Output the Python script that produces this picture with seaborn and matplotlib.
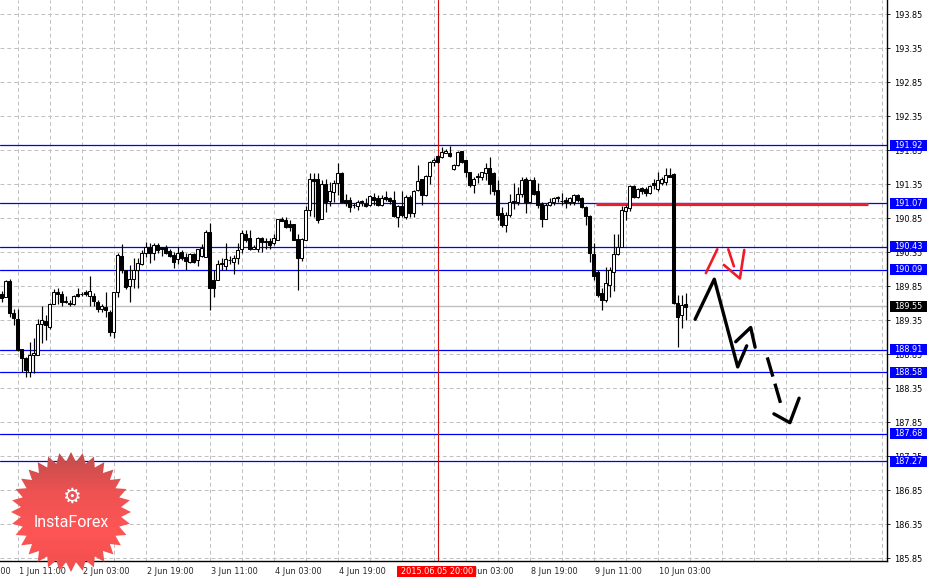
"""Hourly candlestick chart (MT4 style) with support / resistance levels
and a hand-drawn projected path, saved as out.png (930x581).
"""

import numpy as np
import pandas as pd
import matplotlib
matplotlib.use("Agg")
import matplotlib.pyplot as plt
import matplotlib.transforms as mtransforms
from matplotlib.patches import Polygon, Rectangle
import seaborn as sns


# 1. Hourly candles, bar 0 = 1 Jun 07:00
opens = [
    189.73, 189.69, 189.92, 189.45, 189.37, 188.92, 188.79, 188.59, 188.84, 188.83,
    189.29, 189.34, 189.25, 189.59, 189.76, 189.73, 189.62, 189.60, 189.58, 189.73,
    189.73, 189.76, 189.71, 189.70, 189.62, 189.51, 189.54, 189.47, 189.17, 189.76,
    190.29, 190.09, 189.85, 189.95, 190.09, 190.18, 190.34, 190.43, 190.34, 190.45,
    190.42, 190.42, 190.37, 190.31, 190.24, 190.35, 190.27, 190.21, 190.32, 190.23,
    190.29, 190.28, 190.65, 189.94, 189.94, 190.17, 190.15, 190.23, 190.21, 190.26,
    190.39, 190.62, 190.55, 190.40, 190.40, 190.56, 190.51, 190.51, 190.48, 190.53,
    190.83, 190.82, 190.76, 190.76, 190.54, 190.26, 190.53, 190.97, 191.43, 191.42,
    190.84, 191.35, 191.10, 191.23, 191.37, 191.51, 191.12, 191.12, 191.04, 191.02,
    191.10, 191.06, 191.04, 191.16, 191.14, 191.04, 191.16, 191.14, 191.12, 190.86,
    191.03, 190.86, 191.16, 190.93, 191.26, 191.42, 191.19, 191.47, 191.68, 191.76,
    191.74, 191.81, 191.81, 191.57, 191.63, 191.83, 191.71, 191.53, 191.34, 191.46,
    191.45, 191.51, 191.58, 191.51, 191.26, 190.92, 190.75, 190.89, 191.10, 191.08,
    191.21, 191.42, 191.09, 191.41, 191.24, 191.06, 190.84, 191.04, 191.09, 191.16,
    191.10, 191.11, 191.09, 191.09, 191.19, 191.14, 191.01, 190.88, 190.32, 190.06,
    189.75, 189.64, 189.87, 190.06, 190.32, 190.43, 190.96, 191.00, 191.32, 191.16,
    191.29, 191.28, 191.22, 191.36, 191.27, 191.37, 191.38, 191.48, 191.50, 189.60,
    189.42, 189.58,
]
highs = [
    189.78, 189.94, 189.96, 189.51, 189.51, 188.92, 188.81, 189.02, 189.08, 189.36,
    189.55, 189.42, 189.60, 189.81, 189.82, 189.78, 189.71, 189.64, 189.72, 189.82,
    189.76, 189.79, 189.99, 189.74, 189.64, 189.59, 189.76, 189.50, 189.76, 190.33,
    190.47, 190.09, 190.16, 190.26, 190.26, 190.38, 190.50, 190.48, 190.48, 190.48,
    190.43, 190.45, 190.39, 190.35, 190.43, 190.38, 190.33, 190.34, 190.34, 190.40,
    190.47, 190.67, 190.77, 190.08, 190.23, 190.26, 190.48, 190.29, 190.31, 190.48,
    190.68, 190.67, 190.67, 190.45, 190.57, 190.57, 190.55, 190.56, 190.62, 190.84,
    190.86, 190.86, 190.82, 190.76, 190.62, 190.55, 191.02, 191.51, 191.51, 191.51,
    191.41, 191.42, 191.38, 191.41, 191.66, 191.53, 191.21, 191.16, 191.07, 191.11,
    191.11, 191.14, 191.19, 191.22, 191.19, 191.19, 191.24, 191.16, 191.24, 191.04,
    191.24, 191.19, 191.19, 191.26, 191.63, 191.43, 191.48, 191.69, 191.73, 191.78,
    191.90, 191.86, 191.91, 191.65, 191.84, 191.84, 191.71, 191.53, 191.46, 191.51,
    191.53, 191.66, 191.74, 191.52, 191.41, 191.01, 190.94, 191.21, 191.37, 191.31,
    191.45, 191.46, 191.43, 191.46, 191.36, 191.09, 191.07, 191.14, 191.16, 191.17,
    191.22, 191.16, 191.16, 191.20, 191.21, 191.16, 191.03, 190.89, 190.48, 190.08,
    189.82, 190.13, 190.13, 190.62, 190.62, 191.03, 191.04, 191.34, 191.34, 191.29,
    191.31, 191.30, 191.34, 191.42, 191.52, 191.45, 191.58, 191.58, 191.51, 189.72,
    189.72, 189.75,
]
lows = [
    189.62, 189.69, 189.39, 189.28, 188.90, 188.59, 188.51, 188.51, 188.57, 188.83,
    189.01, 189.05, 189.22, 189.58, 189.59, 189.56, 189.60, 189.55, 189.57, 189.69,
    189.71, 189.71, 189.56, 189.56, 189.47, 189.47, 189.40, 189.11, 189.09, 189.69,
    190.04, 189.80, 189.62, 189.82, 189.82, 190.16, 190.28, 190.19, 190.23, 190.34,
    190.29, 190.32, 190.27, 190.12, 190.18, 190.23, 190.09, 190.19, 190.19, 190.14,
    190.28, 190.27, 189.50, 189.69, 189.94, 190.08, 190.09, 190.18, 190.03, 190.18,
    190.33, 190.50, 190.38, 190.39, 190.35, 190.35, 190.40, 190.40, 190.45, 190.53,
    190.80, 190.71, 190.66, 190.53, 189.79, 190.22, 190.52, 190.88, 190.87, 190.78,
    190.83, 190.94, 191.02, 191.09, 191.19, 191.08, 191.02, 190.94, 190.99, 190.97,
    191.03, 191.01, 191.03, 191.04, 191.03, 191.03, 191.10, 191.06, 190.86, 190.72,
    190.86, 190.84, 190.87, 190.87, 191.25, 191.04, 191.17, 191.35, 191.61, 191.66,
    191.73, 191.80, 191.75, 191.56, 191.61, 191.66, 191.46, 191.31, 191.22, 191.37,
    191.41, 191.41, 191.20, 191.19, 190.82, 190.72, 190.65, 190.86, 190.98, 191.04,
    191.16, 190.93, 191.08, 191.19, 190.99, 190.72, 190.83, 191.03, 191.04, 191.08,
    191.04, 190.99, 191.04, 191.04, 191.09, 190.99, 190.75, 190.21, 189.94, 189.69,
    189.50, 189.62, 189.69, 189.77, 190.31, 190.42, 190.82, 190.96, 191.14, 191.14,
    191.21, 191.18, 191.20, 191.27, 191.25, 191.34, 191.33, 191.45, 189.58, 188.95,
    189.23, 189.35,
]
closes = [
    189.67, 189.93, 189.46, 189.38, 188.91, 188.79, 188.61, 188.84, 188.87, 189.29,
    189.35, 189.27, 189.59, 189.76, 189.73, 189.62, 189.62, 189.59, 189.70, 189.71,
    189.73, 189.73, 189.78, 189.63, 189.51, 189.55, 189.49, 189.18, 189.76, 190.31,
    190.09, 189.84, 189.96, 190.09, 190.19, 190.34, 190.43, 190.34, 190.45, 190.38,
    190.39, 190.34, 190.29, 190.21, 190.34, 190.26, 190.22, 190.32, 190.21, 190.39,
    190.41, 190.65, 189.82, 189.82, 190.18, 190.19, 190.24, 190.23, 190.26, 190.38,
    190.63, 190.52, 190.39, 190.43, 190.56, 190.49, 190.49, 190.45, 190.55, 190.83,
    190.81, 190.72, 190.72, 190.53, 190.26, 190.54, 190.97, 191.42, 191.40, 190.82,
    191.35, 191.08, 191.25, 191.37, 191.51, 191.09, 191.07, 191.01, 191.04, 191.09,
    191.08, 191.03, 191.18, 191.12, 191.04, 191.15, 191.13, 191.10, 190.88, 191.03,
    190.89, 191.16, 190.92, 191.25, 191.40, 191.19, 191.47, 191.68, 191.71, 191.68,
    191.82, 191.84, 191.76, 191.63, 191.82, 191.68, 191.53, 191.34, 191.43, 191.47,
    191.52, 191.59, 191.35, 191.24, 190.89, 190.75, 190.89, 191.09, 191.08, 191.21,
    191.41, 191.08, 191.41, 191.20, 191.04, 190.84, 191.04, 191.09, 191.15, 191.14,
    191.10, 191.09, 191.14, 191.19, 191.11, 191.01, 190.88, 190.33, 189.99, 189.72,
    189.64, 189.89, 190.08, 190.32, 190.43, 190.97, 191.01, 191.32, 191.16, 191.27,
    191.25, 191.22, 191.32, 191.33, 191.41, 191.42, 191.48, 191.46, 189.60, 189.39,
    189.57, 189.54,
]

# Horizontal levels (blue lines, labelled on the price axis)
level_prices = [191.92, 191.07, 190.43, 190.09, 188.91, 188.58, 187.68, 187.27]
last_price = 189.55

# Red resistance segment
red_level = 191.06
red_level_start = 148.6
red_level_end = 216.6

# Projected path, black strokes (bar index, price)
path_bars = [173.4, 178.2, 184.05, 186.3, 183.55, 187.3, 188.4, 193.1, 197.1, 199.4]
path_prices = [189.36, 189.95, 188.66, 188.97, 189.03, 189.24, 188.95, 187.97, 187.84, 188.20]
path_strokes = [0, 0, 0, 0, 1, 1, 1, 2, 2, 2]
dash_bars = [191.45, 195.05]
dash_prices = [188.80, 188.07]

# Red arrow strokes above the path
red_bars = [176.1, 178.95, 181.7, 183.1, 180.6, 184.6, 185.7]
red_prices = [190.04, 190.39, 190.39, 190.14, 190.16, 189.96, 190.38]
red_strokes = [0, 0, 1, 1, 2, 2, 2]

# Axis texts
price_ticks = [193.85, 193.35, 192.85, 192.35, 191.85, 191.35, 190.85, 190.35,
               189.85, 189.35, 188.85, 188.35, 187.85, 187.35, 186.85, 186.35, 185.85]
time_labels = ["29 May 19:00", "1 Jun 11:00", "2 Jun 03:00", "2 Jun 19:00",
               "3 Jun 11:00", "4 Jun 03:00", "4 Jun 19:00",
               "8 Jun 03:00", "8 Jun 19:00", "9 Jun 11:00", "10 Jun 03:00"]
time_label_bars = [-12, 4, 20, 36, 52, 68, 84, 116, 132, 148, 164]
vline_bar = 109
vline_label = "2015.06.05 20:00"


# 2. Style
sns.set_style("white")
plt.rcParams["font.family"] = ["DejaVu Sans"]

W, H = 930, 581
PLOT_R, PLOT_B = 887, 561          # right and bottom edge of the chart, px
GRID = "#c0c0c0"
BLUE = "#0000ff"
FS = 5.9

candles = pd.DataFrame({"open": opens, "high": highs, "low": lows, "close": closes})
candles["bar"] = np.arange(len(candles))

fig = plt.figure(figsize=(W / 100, H / 100), dpi=100, facecolor="white")
ax = fig.add_axes([0, (H - PLOT_B) / H, PLOT_R / W, PLOT_B / H])
ax.set_facecolor("white")

# 1 bar = 4 px, bar 0 centred at x = 1.5 px; 0.5 price = 34 px
XLIM = (-1.5 / 4, (PLOT_R - 1.5) / 4)
YLIM = (193.85 - (PLOT_B - 14) / 68, 193.85 + 14 / 68)

# Grid
ax.set_axisbelow(True)
ax.set_xticks([b for b in time_label_bars if b >= 0] + [100])
ax.set_xticks(np.arange(4, 222, 8), minor=True)
ax.set_xticklabels([])
ax.tick_params(axis="x", which="major", length=2, width=0.6, color="black")
ax.tick_params(axis="x", which="minor", length=0)
ax.yaxis.tick_right()
ax.set_yticks(price_ticks)
ax.set_yticklabels([f"{p:.2f}" for p in price_ticks])
ax.tick_params(axis="y", length=2, width=0.6, pad=3, labelsize=FS, colors="black")
ax.grid(True, which="both", color=GRID, linestyle=(0, (4, 3)), linewidth=0.7)

for side in ["left", "top"]:
    ax.spines[side].set_visible(False)
for side in ["right", "bottom"]:
    ax.spines[side].set_color("black")
    ax.spines[side].set_linewidth(1.0)

# Levels
ax.axhline(last_price, color="#c0c0c0", lw=1.0, zorder=1.5)
for p in level_prices:
    ax.axhline(p, color=BLUE, lw=0.9, zorder=2)
ax.axvline(vline_bar, color="#d01010", lw=0.8, zorder=2)
ax.hlines(red_level, red_level_start, red_level_end, color="#e8202a", lw=2.3, zorder=2.2)

# 3. Candles
ax.vlines(candles["bar"], candles["low"], candles["high"], color="black", lw=0.85, zorder=3)
body_bottom = candles[["open", "close"]].min(axis=1)
body_height = (candles["close"] - candles["open"]).abs().clip(lower=0.006)
body_fill = np.where(candles["close"] >= candles["open"], "white", "black")
ax.bar(candles["bar"], body_height, bottom=body_bottom, width=0.58, color=body_fill,
       edgecolor="black", linewidth=0.75, zorder=4)

# 4. Hand-drawn projection
path = pd.DataFrame({"bar": path_bars, "price": path_prices, "stroke": path_strokes})
sns.lineplot(data=path, x="bar", y="price", units="stroke", estimator=None, sort=False,
             color="black", linewidth=2.4, legend=False, ax=ax, zorder=5)
ax.plot(dash_bars, dash_prices, color="black", lw=2.4, linestyle=(0, (6, 2.2)), zorder=5)
arrows = pd.DataFrame({"bar": red_bars, "price": red_prices, "stroke": red_strokes})
sns.lineplot(data=arrows, x="bar", y="price", units="stroke", estimator=None, sort=False,
             color="#ee1c25", linewidth=1.9, legend=False, ax=ax, zorder=5)
ax.set_xlabel("")
ax.set_ylabel("")
ax.set_xlim(*XLIM)
ax.set_ylim(*YLIM)

# 5. Price-axis label boxes
trans_y = mtransforms.blended_transform_factory(ax.transAxes, ax.transData)
box_h = 11 / 68
for p, fc in [(p, BLUE) for p in level_prices] + [(last_price, "black")]:
    ax.add_patch(Rectangle((1 + 3 / PLOT_R, p - box_h / 2), 37 / PLOT_R, box_h,
                           transform=trans_y, facecolor=fc, edgecolor="none",
                           clip_on=False, zorder=8))
    ax.text(1 + 7 / PLOT_R, p, f"{p:.2f}", transform=trans_y, color="white",
            fontsize=FS, ha="left", va="center", clip_on=False, zorder=9)

# Time labels
trans_x = mtransforms.blended_transform_factory(ax.transData, ax.transAxes)
for b, lbl in zip(time_label_bars, time_labels):
    ax.text(b + 0.4, -10.5 / PLOT_B, lbl, transform=trans_x, fontsize=FS,
            ha="left", va="center", clip_on=False, zorder=6)
ax.add_patch(Rectangle((vline_bar - 10.1, -15.5 / PLOT_B), 19.7, 10.5 / PLOT_B,
                       transform=trans_x, facecolor="red", edgecolor="none",
                       clip_on=False, zorder=8))
ax.text(vline_bar - 0.1, -10.5 / PLOT_B, vline_label, transform=trans_x, fontsize=FS,
        color="white", ha="center", va="center", clip_on=False, zorder=9)

# 6. Logo badge (bottom-left)
logo = fig.add_axes([11 / W, 9 / H, 120 / W, 120 / H])
logo.set_xlim(-1, 1)
logo.set_ylim(-1, 1)
logo.axis("off")
n_spikes = 32
ang = np.pi / 2 + np.arange(2 * n_spikes) * np.pi / n_spikes
rad = np.where(np.arange(2 * n_spikes) % 2 == 0, 1.0, 0.84)
star = Polygon(np.column_stack([rad * np.cos(ang), rad * np.sin(ang)]),
               closed=True, facecolor="none", edgecolor="none")
logo.add_patch(star)
shade = np.linspace(0, 1, 100)[:, None]
cmap = matplotlib.colors.LinearSegmentedColormap.from_list(
    "badge", ["#c24c4c", "#ee5252", "#ff5555", "#f04e4e"])
img = logo.imshow(shade, cmap=cmap, extent=[-1, 1, -1, 1], aspect="auto",
                  origin="upper", zorder=1)
img.set_clip_path(star)
logo.text(0, 0.26, "\u2699", color="white", fontsize=15, ha="center", va="center",
          family=["DejaVu Sans"], zorder=2)
logo.text(0, -0.17, "InstaForex", color="white", fontsize=11.5, ha="center",
          va="center", family=["Roboto", "DejaVu Sans"], zorder=2)

fig.savefig("out.png", dpi=100, facecolor="white")
plt.close(fig)
